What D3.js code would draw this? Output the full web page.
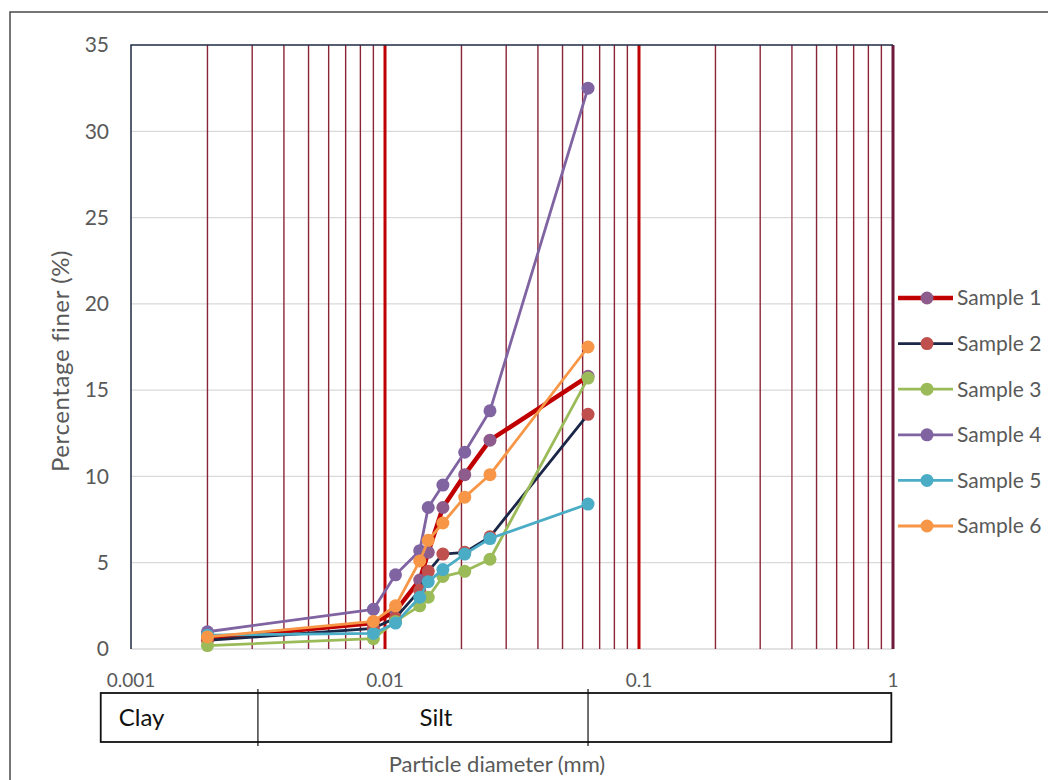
<!DOCTYPE html>
<html>
<head>
<meta charset="utf-8">
<script src="https://cdn.jsdelivr.net/npm/d3@7"></script>
<style>
  body { margin: 0; background: #fff; }
  svg { display: block; font-family: Lato, 'Open Sans', sans-serif; }
</style>
</head>
<body>
<svg id="chart" width="1048" height="780"></svg>
<script>
// particle diameters (mm), shared by every sample
let diameters = [0.002, 0.009, 0.011, 0.0137, 0.0148, 0.0169, 0.0206, 0.0259, 0.063]

let sample1 = [0.6, 1.5, 2.2, 4.0, 5.6, 8.2, 10.1, 12.1, 15.8]
let sample2 = [0.5, 1.2, 1.8, 3.4, 4.5, 5.5, 5.6, 6.5, 13.6]
let sample3 = [0.2, 0.6, 1.6, 2.5, 3.0, 4.2, 4.5, 5.2, 15.7]
let sample4 = [1.0, 2.3, 4.3, 5.7, 8.2, 9.5, 11.4, 13.8, 32.5]
let sample5 = [0.8, 0.9, 1.5, 3.0, 3.9, 4.6, 5.5, 6.4, 8.4]
let sample6 = [0.7, 1.6, 2.5, 5.1, 6.3, 7.3, 8.8, 10.1, 17.5]

let sampleNames = ['Sample 1', 'Sample 2', 'Sample 3', 'Sample 4', 'Sample 5', 'Sample 6']
let sampleValues = [sample1, sample2, sample3, sample4, sample5, sample6]
let lineColors = ['#c00000', '#1b2747', '#9bbb59', '#8064a2', '#4bacc6', '#f79646']
let markerColors = ['#8d5c8c', '#c0504d', '#9bbb59', '#8064a2', '#4bacc6', '#f79646']

let yTicks = [0, 5, 10, 15, 20, 25, 30, 35]
let xTicks = [0.001, 0.01, 0.1, 1]

// soil classes along the bottom strip
let classNames = ['Clay', 'Silt', '']
let classBounds = [0.00076, 0.00316, 0.063, 0.985]

let svg = d3.select('#chart'),
    margin = {left: 131, right: 155, top: 45, bottom: 131},
    width = 1048 - margin.left - margin.right,
    height = 780 - margin.top - margin.bottom

let x = d3.scaleLog().domain([0.001, 1]).range([margin.left, margin.left + width])
let y = d3.scaleLinear().domain([0, 35]).range([margin.top + height, margin.top])

// outer chart frame (only left and top edges are visible)
svg.append('path')
  .attr('d', 'M10,780 V12 H1048')
  .attr('fill', 'none')
  .attr('stroke', '#4a4a4a')
  .attr('stroke-width', 1.5)

// horizontal gridlines
svg.append('g')
  .selectAll('line')
  .data(yTicks.slice(0, -1))
  .join('line')
  .attr('x1', x(0.001))
  .attr('x2', x(1))
  .attr('y1', d => y(d))
  .attr('y2', d => y(d))
  .attr('stroke', '#d9d9d9')
  .attr('stroke-width', 1.3)

// vertical log gridlines
let minor = []
;[0.001, 0.01, 0.1].forEach(dec => {
  d3.range(2, 10).forEach(k => minor.push(dec * k))
})

svg.append('g')
  .selectAll('line')
  .data(minor)
  .join('line')
  .attr('x1', d => x(d))
  .attr('x2', d => x(d))
  .attr('y1', y(0))
  .attr('y2', y(35))
  .attr('stroke', '#8a2436')
  .attr('stroke-width', 1.4)

svg.append('g')
  .selectAll('line')
  .data([0.01, 0.1, 1])
  .join('line')
  .attr('x1', d => x(d))
  .attr('x2', d => x(d))
  .attr('y1', y(0))
  .attr('y2', y(35))
  .attr('stroke', d => d === 1 ? '#6e1a3c' : '#c00000')
  .attr('stroke-width', 3)

// left axis and top border
svg.append('path')
  .attr('d', `M${x(0.001)},${y(0)} V${y(35)} H${x(1)}`)
  .attr('fill', 'none')
  .attr('stroke', '#1f2a44')
  .attr('stroke-width', 1.5)

// y tick labels
svg.append('g')
  .selectAll('text')
  .data(yTicks)
  .join('text')
  .attr('x', margin.left - 22)
  .attr('y', d => y(d))
  .attr('dy', '0.35em')
  .attr('text-anchor', 'end')
  .attr('font-size', 21)
  .attr('fill', '#595959')
  .text(d => d)

// x tick labels
svg.append('g')
  .selectAll('text')
  .data(xTicks)
  .join('text')
  .attr('x', d => x(d))
  .attr('y', y(0) + 38)
  .attr('text-anchor', 'middle')
  .attr('font-size', 19)
  .attr('fill', '#595959')
  .text(d => d3.format('~g')(d))

// axis titles
svg.append('text')
  .attr('transform', `translate(69,361) rotate(-90)`)
  .attr('text-anchor', 'middle')
  .attr('font-size', 24)
  .attr('letter-spacing', 0.6)
  .attr('fill', '#595959')
  .text('Percentage finer (%)')

svg.append('text')
  .attr('x', 497)
  .attr('y', 772)
  .attr('text-anchor', 'middle')
  .attr('font-size', 22)
  .attr('fill', '#595959')
  .text('Particle diameter (mm)')

// classification strip
let strip = svg.append('g')
let stripTop = 693, stripBottom = 742

strip.append('rect')
  .attr('x', x(classBounds[0]))
  .attr('y', stripTop)
  .attr('width', x(classBounds[3]) - x(classBounds[0]))
  .attr('height', stripBottom - stripTop)
  .attr('fill', 'none')
  .attr('stroke', '#111')
  .attr('stroke-width', 1.8)

strip.selectAll('line')
  .data(classBounds.slice(1, -1))
  .join('line')
  .attr('x1', d => x(d))
  .attr('x2', d => x(d))
  .attr('y1', stripTop - 4)
  .attr('y2', stripBottom + 4)
  .attr('stroke', '#111')
  .attr('stroke-width', 1.2)

strip.selectAll('text')
  .data(classNames)
  .join('text')
  .attr('x', (d, i) => i === 0 ? x(classBounds[0]) + 18 : (x(classBounds[i]) + x(classBounds[i + 1])) / 2 + 13)
  .attr('y', (stripTop + stripBottom) / 2)
  .attr('dy', '0.35em')
  .attr('text-anchor', (d, i) => i === 0 ? 'start' : 'middle')
  .attr('font-size', 24)
  .attr('fill', '#111')
  .text(d => d)

// sample curves
let line = d3.line()
  .x((d, i) => x(diameters[i]))
  .y(d => y(d))

let series = svg.append('g')
  .selectAll('g')
  .data(sampleValues.map((values, i) => ({name: sampleNames[i], values, i})))
  .join('g')

series.append('path')
  .attr('d', d => line(d.values))
  .attr('fill', 'none')
  .attr('stroke', d => lineColors[d.i])
  .attr('stroke-width', d => d.i === 0 ? 4.5 : 2.8)
  .attr('stroke-linejoin', 'round')

series.selectAll('circle')
  .data(d => d.values.map((v, j) => ({v, j, i: d.i})))
  .join('circle')
  .attr('cx', d => x(diameters[d.j]))
  .attr('cy', d => y(d.v))
  .attr('r', 6.5)
  .attr('fill', d => markerColors[d.i])

// legend
let legend = svg.append('g')
  .selectAll('g')
  .data(sampleNames)
  .join('g')
  .attr('transform', (d, i) => `translate(898,${298 + i * 45.6})`)

legend.append('line')
  .attr('x1', 0)
  .attr('x2', 55)
  .attr('stroke', (d, i) => lineColors[i])
  .attr('stroke-width', (d, i) => i === 0 ? 4.5 : 2.8)

legend.append('circle')
  .attr('cx', 29)
  .attr('r', 6.5)
  .attr('fill', (d, i) => markerColors[i])

legend.append('text')
  .attr('x', 59)
  .attr('dy', '0.35em')
  .attr('font-size', 21)
  .attr('fill', '#595959')
  .text(d => d)
</script>
</body>
</html>
